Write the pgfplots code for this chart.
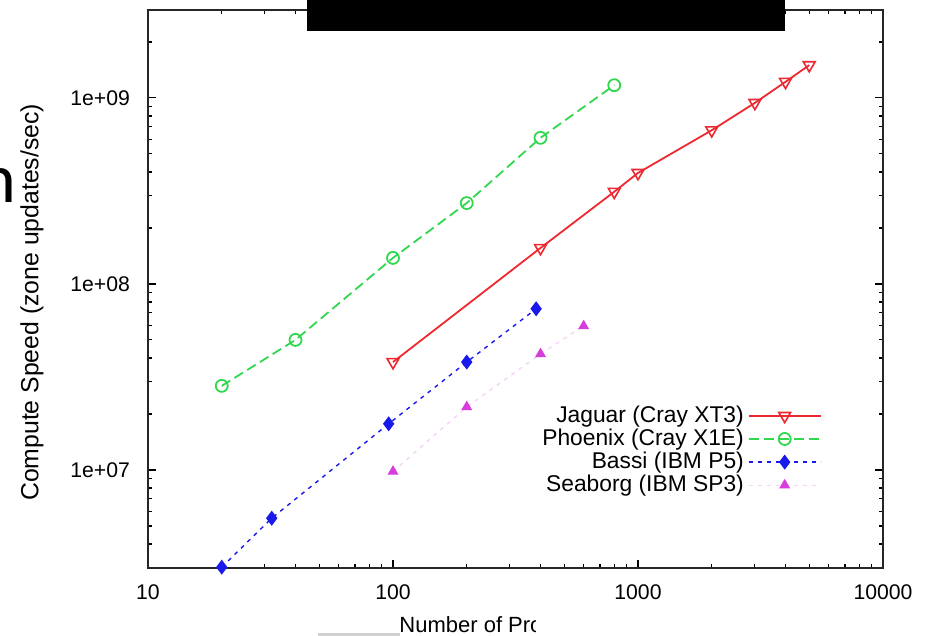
\documentclass[border=0pt]{standalone}
\usepackage{pgfplots}
\pgfplotsset{compat=1.18}
\usepackage{fontspec}
\setmainfont{Liberation Sans}
\newfontfamily\slidefont{Carlito}
\definecolor{cred}{RGB}{238,40,48}
\definecolor{cgreen}{RGB}{50,215,80}
\definecolor{cblue}{RGB}{25,25,235}
\definecolor{cmag}{RGB}{215,60,220}
\begin{document}
\begin{tikzpicture}
\path[use as bounding box] (-74pt,-34pt) rectangle (392pt,284pt);
\begin{axis}[
  at={(0pt,0pt)}, anchor=south west,
  scale only axis, width=367.5pt, height=279pt,
  xmode=log, ymode=log,
  xmin=10, xmax=10000, ymin=2.97e6, ymax=2.97e9,
  clip=false,
  axis line style={black!85, line width=1.2pt},
  tick style={black, line width=0.6pt},
  major tick length=4pt, minor tick length=2pt,
  tick align=inside, tick pos=both,
  xtick={10,100,1000,10000},
  xticklabels={\textrm{10},\textrm{100},\textrm{1000},\textrm{10000}},
  minor xtick={20,30,40,50,60,70,80,90,200,300,400,500,600,700,800,900,2000,3000,4000,5000,6000,7000,8000,9000},
  ytick={1e7,1e8,1e9},
  yticklabels={\textrm{1e+07},\textrm{1e+08},\textrm{1e+09}},
  minor ytick={4e6,5e6,6e6,7e6,8e6,9e6,2e7,3e7,4e7,5e7,6e7,7e7,8e7,9e7,2e8,3e8,4e8,5e8,6e8,7e8,8e8,9e8,2e9},
  ticklabel style={font=\fontsize{10.6}{12}\selectfont},
  xticklabel style={yshift=-5pt},
  yticklabel style={xshift=-5.5pt},
  xlabel={Number of Processors},
  ylabel={Compute Speed (zone updates/sec)},
  every axis x label/.style={at={(rel axis cs:0.491,-0.1165)}, anchor=base, font=\fontsize{11}{13}\selectfont},
  every axis y label/.style={at={(rel axis cs:-0.158,0.476)}, anchor=center, rotate=90, font=\fontsize{12.4}{14}\selectfont},
  legend style={draw=none, fill=none, at={(rel axis cs:0.917,0.298)}, anchor=north east,
    font=\fontsize{11.4}{13}\selectfont, row sep=-2.2pt, inner sep=0pt},
  legend cell align=right,
  legend plot pos=right,
  legend image code/.code={\draw[xshift=3pt,mark repeat=2,mark phase=2,#1] plot coordinates {(0pt,0pt) (18pt,0pt) (36pt,0pt)};},
]
\addplot[color=cred, line width=0.9pt, mark=triangle, mark size=3.4pt,
  mark options={solid, rotate=180, line width=0.8pt}]
  coordinates {(100,3.8e7)(400,1.56e8)(800,3.13e8)(1000,3.95e8)(2000,6.7e8)(3000,9.4e8)(4000,1.22e9)(5000,1.5e9)};
\addlegendentry{Jaguar (Cray XT3)}
\addplot[color=cgreen, line width=0.9pt, dash pattern=on 5pt off 2.5pt, mark=o, mark size=3pt,
  mark options={solid, line width=0.9pt}]
  coordinates {(20,2.83e7)(40,5.0e7)(100,1.38e8)(200,2.72e8)(400,6.1e8)(800,1.17e9)};
\addlegendentry{Phoenix (Cray X1E)}
\addplot[color=cblue, line width=0.7pt, dash pattern=on 2pt off 2.5pt, mark=diamond*, mark size=3.2pt,
  mark options={solid}]
  coordinates {(20,3.0e6)(32,5.5e6)(96,1.77e7)(200,3.8e7)(384,7.35e7)};
\addlegendentry{Bassi (IBM P5)}
\addplot[color=cmag!22, line width=0.7pt, dash pattern=on 2pt off 2.5pt, mark=triangle*, mark size=2.5pt,
  mark options={solid, color=cmag}]
  coordinates {(100,9.8e6)(200,2.18e7)(400,4.2e7)(600,5.94e7)};
\addlegendentry{Seaborg (IBM SP3)}
\end{axis}
% occluding artefacts of the source screenshot
\fill[black] (79.5pt,268.5pt) rectangle (318.5pt,290pt);
\fill[white] (194pt,-34pt) rectangle (280pt,-20pt);
\fill[black!18] (85pt,-34pt) rectangle (126pt,-32.5pt);
\node[anchor=base east, inner sep=0pt, font=\slidefont\fontsize{35}{40}\selectfont] at (-65.8pt,182.5pt) {n};
\end{tikzpicture}
\end{document}
